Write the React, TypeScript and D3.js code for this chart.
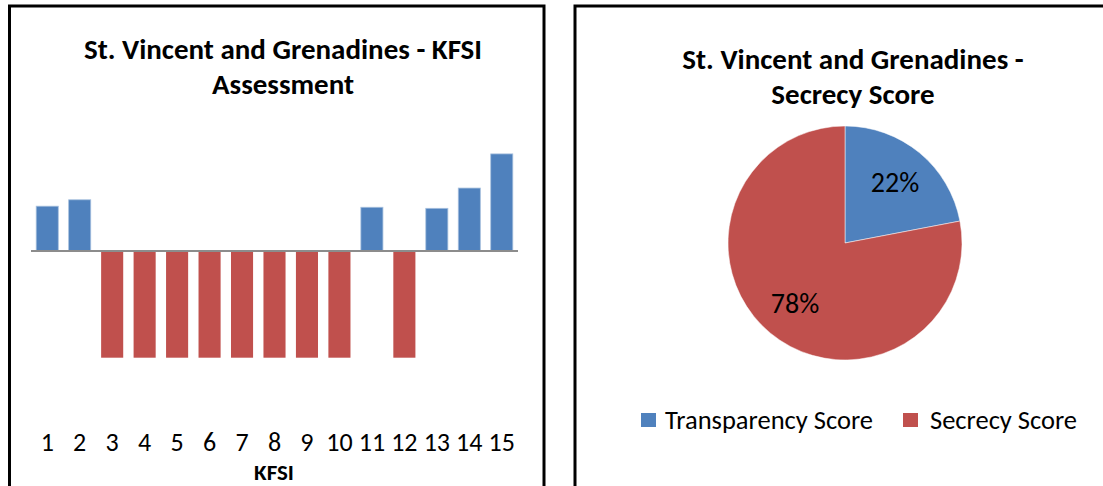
import React from "react";
import * as d3 from "d3";

const kfsiLabels = ["1", "2", "3", "4", "5", "6", "7", "8", "9", "10", "11", "12", "13", "14", "15"];
const kfsiValues = [0.42, 0.48, -1, -1, -1, -1, -1, -1, -1, -1, 0.41, -1, 0.4, 0.59, 0.91];

const pieLabels = ["Transparency Score", "Secrecy Score"];
const pieValues = [22, 78];

const BLUE = "#4F81BD";
const RED = "#C0504D";
const FONT = "Carlito, Calibri, Lato, sans-serif";

export default function App() {
    // bar chart scales
    const x = d3.scaleBand<string>()
        .domain(kfsiLabels)
        .range([31, 518])
        .paddingInner(0.32)
        .paddingOuter(0.16);
    const y = d3.scaleLinear().domain([-1, 1]).range([357.7, 144.3]);

    // pie
    const cx = 845;
    const cy = 243;
    const r = 117;
    const pie = d3.pie<number>().sort(null).value((d) => d);
    const arcs = pie(pieValues);
    const arc = d3.arc<d3.PieArcDatum<number>>().innerRadius(0).outerRadius(r);
    const labelArc = d3.arc<d3.PieArcDatum<number>>().innerRadius(r * 0.67).outerRadius(r * 0.67);
    const pieColor = d3.scaleOrdinal<string, string>().domain(pieLabels).range([BLUE, RED]);

    return (
        <svg width={1103} height={486} style={{ position: "absolute", left: 0, top: 0 }} fontFamily={FONT}>
            <rect x={0} y={0} width={1103} height={486} fill="#fff" />

            {/* left panel */}
            <rect x={9.5} y={6} width={534.5} height={500} fill="#fff" stroke="#000" strokeWidth={3} />
            <text x={283} y={59} textAnchor="middle" fontSize={29} fontWeight="bold">
                St. Vincent and Grenadines - KFSI
            </text>
            <text x={283} y={94} textAnchor="middle" fontSize={29} fontWeight="bold">
                Assessment
            </text>
            {kfsiValues.map((v, i) => (
                <rect
                    key={i}
                    x={x(kfsiLabels[i])}
                    y={y(Math.max(0, v))}
                    width={x.bandwidth()}
                    height={Math.abs(y(v) - y(0))}
                    fill={v >= 0 ? BLUE : RED}
                    stroke={v >= 0 ? "#a7c0de" : "none"}
                    strokeWidth={0.8}
                />
            ))}
            <line x1={31} x2={518} y1={y(0)} y2={y(0)} stroke="#8c8c8c" strokeWidth={2} />
            {kfsiLabels.map((d) => (
                <text key={d} x={(x(d) || 0) + x.bandwidth() / 2} y={451} textAnchor="middle" fontSize={26}>
                    {d}
                </text>
            ))}
            <text x={274} y={480} textAnchor="middle" fontSize={23} fontWeight="bold">
                KFSI
            </text>

            {/* right panel */}
            <rect x={575} y={6} width={540} height={500} fill="#fff" stroke="#000" strokeWidth={3} />
            <text x={853} y={69} textAnchor="middle" fontSize={29} fontWeight="bold">
                St. Vincent and Grenadines -
            </text>
            <text x={853} y={104} textAnchor="middle" fontSize={29} fontWeight="bold">
                Secrecy Score
            </text>
            <g transform={`translate(${cx},${cy})`}>
                {arcs.map((a, i) => (
                    <path key={i} d={arc(a) || ""} fill={pieColor(pieLabels[i])} stroke="#fff" strokeWidth={0.5} />
                ))}
                {arcs.map((a, i) => {
                    const [lx, ly] = labelArc.centroid(a);
                    return (
                        <text key={i} x={lx} y={ly} dy="0.35em" textAnchor="middle" fontSize={28}>
                            {pieValues[i]}%
                        </text>
                    );
                })}
            </g>
            {/* legend */}
            <rect x={641} y={413} width={15} height={14} fill={BLUE} />
            <text x={665} y={429} fontSize={26.5}>Transparency Score</text>
            <rect x={903} y={413} width={15} height={14} fill={RED} />
            <text x={930} y={429} fontSize={26.5}>Secrecy Score</text>
        </svg>
    );
}
